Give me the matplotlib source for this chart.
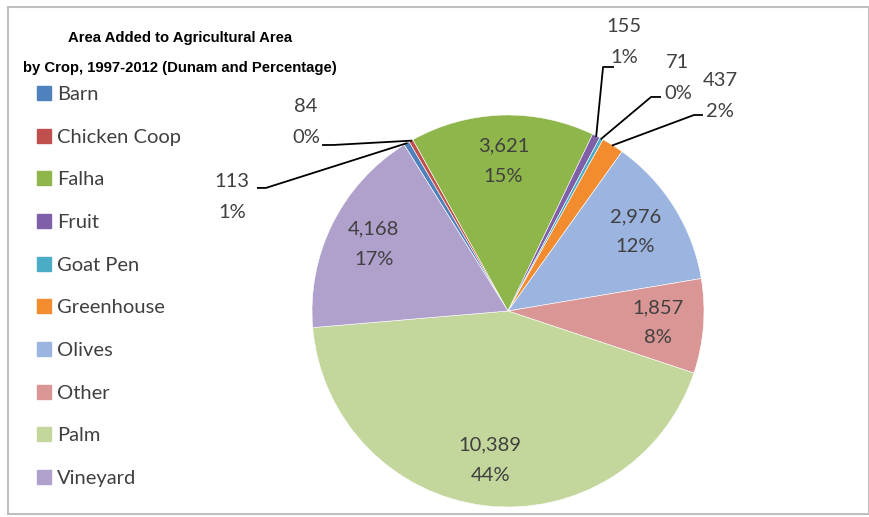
import numpy as np
import matplotlib.pyplot as plt
from matplotlib.lines import Line2D
from matplotlib.patches import Rectangle

# data
crops = ["Barn", "Chicken Coop", "Falha", "Fruit", "Goat Pen",
         "Greenhouse", "Olives", "Other", "Palm", "Vineyard"]
dunam = [113, 84, 3621, 155, 71, 437, 2976, 1857, 10389, 4168]
pct_shown = [1, 0, 15, 1, 0, 2, 12, 8, 44, 17]

colors = ["#4F81BD", "#C0504D", "#8EB64A", "#7F5FA8", "#4BACC6",
          "#F28C2E", "#9BB5E0", "#D99694", "#C3D69B", "#AFA0CC"]

label_font = ["Lato", "DejaVu Sans"]
txt_col = "#404040"
fs = 14.5

fig = plt.figure(figsize=(8.7, 5.17), dpi=100)
ax = fig.add_axes([312 / 870, 10 / 517, 392 / 870, 392 / 517])
wedges, _ = ax.pie(dunam, colors=colors, startangle=122, counterclock=False,
                   radius=1, wedgeprops=dict(edgecolor="white", linewidth=0.4))
ax.set_xlim(-1, 1)
ax.set_ylim(-1, 1)

# labels inside the big slices
for i in [2, 6, 7, 8, 9]:
    w = wedges[i]
    a = np.deg2rad((w.theta1 + w.theta2) / 2)
    ax.text(0.765 * np.cos(a), 0.765 * np.sin(a), f"{dunam[i]:,}\n{pct_shown[i]}%",
            ha="center", va="center", fontsize=fs, family=label_font,
            color=txt_col, linespacing=1.95)

# small slices: label outside with leader lines (text pos, line start, kink)
outside = {
    0: ((-1.408, 0.582), (-1.276, 0.628), (-1.235, 0.628)),
    1: ((-1.031, 0.964), (-0.944, 0.847), (-0.893, 0.847)),
    3: ((0.592, 1.372), (0.536, 1.245), (0.485, 1.245)),
    4: ((0.867, 1.189), (0.776, 1.092), (0.730, 1.092)),
    5: ((1.082, 1.097), (0.990, 1.000), (0.949, 1.000)),
}
for i, (tpos, p0, p1) in outside.items():
    w = wedges[i]
    a = np.deg2rad((w.theta1 + w.theta2) / 2)
    ax.plot([p0[0], p1[0], np.cos(a)], [p0[1], p1[1], np.sin(a)],
            color="black", lw=1.3, clip_on=False)
    ax.text(tpos[0], tpos[1], f"{dunam[i]:,}\n{pct_shown[i]}%",
            ha="center", va="center", fontsize=fs, family=label_font,
            color=txt_col, linespacing=1.95, clip_on=False)

# legend
handles = [Line2D([], [], marker="s", linestyle="", color=c, markersize=10)
           for c in colors]
fig.legend(handles, crops, loc="upper left", bbox_to_anchor=(36 / 870, 1 - 86 / 517),
           frameon=False, borderpad=0, borderaxespad=0, handlelength=0.75,
           handletextpad=0.3, labelspacing=1.27,
           prop={"family": label_font, "size": fs}, labelcolor=txt_col)

fig.text(180 / 870, 1 - 53 / 517,
         "Area Added to Agricultural Area\nby Crop, 1997-2012 (Dunam and Percentage)",
         ha="center", va="center", fontsize=10.7, fontweight="bold",
         family=["Liberation Sans", "DejaVu Sans"], linespacing=2.4)

# chart border
fig.patches.append(Rectangle((8 / 870, 3 / 517), 861 / 870, 507 / 517,
                             transform=fig.transFigure, fill=False,
                             edgecolor="#BFBFBF", lw=1.5))

fig.savefig("out.png", dpi=100)
